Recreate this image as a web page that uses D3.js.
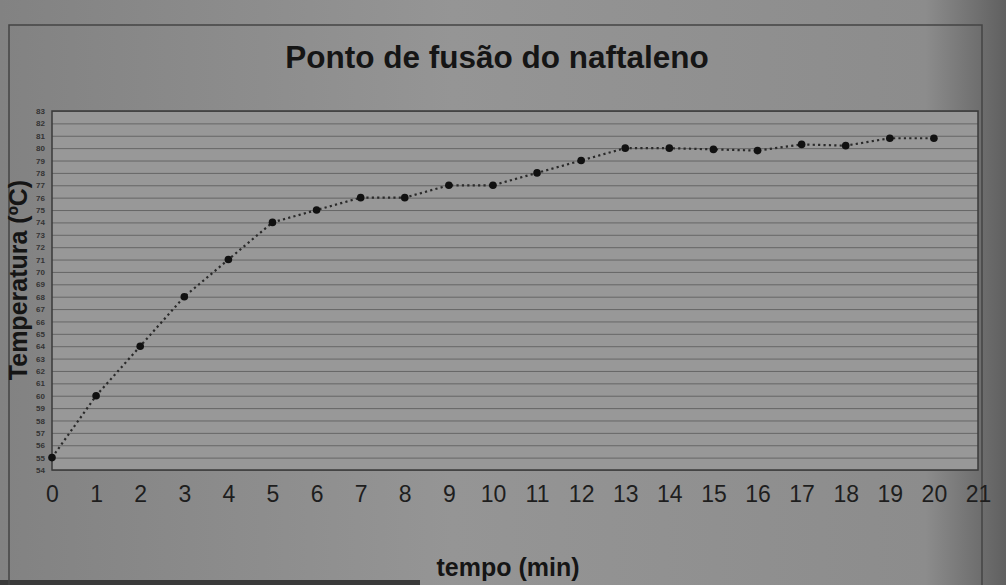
<!DOCTYPE html>
<html>
<head>
<meta charset="utf-8">
<script src="https://cdn.jsdelivr.net/npm/d3@7"></script>
<style>
  html, body { margin: 0; padding: 0; background: #8a8a8a; }
  svg { display: block; }
  text { font-family: "Liberation Sans", Arial, sans-serif; }
</style>
</head>
<body>
<svg id="chart" width="1006" height="585"></svg>
<script>
// ---- data ----
const minutes = [0, 1, 2, 3, 4, 5, 6, 7, 8, 9, 10, 11, 12, 13, 14, 15, 16, 17, 18, 19, 20];
const temperatures = [55, 60, 64, 68, 71, 74, 75, 76, 76, 77, 77, 78, 79, 80, 80, 79.9, 79.8, 80.3, 80.2, 80.8, 80.8];
const xTickLabels = [0, 1, 2, 3, 4, 5, 6, 7, 8, 9, 10, 11, 12, 13, 14, 15, 16, 17, 18, 19, 20, 21];
const yTickLabels = [54, 55, 56, 57, 58, 59, 60, 61, 62, 63, 64, 65, 66, 67, 68, 69, 70, 71, 72, 73, 74, 75, 76, 77, 78, 79, 80, 81, 82, 83];
const chartTitle = "Ponto de fusão do naftaleno";
const xTitle = "tempo (min)";
const yTitle = "Temperatura (ºC)";

// ---- layout ----
const W = 1006, H = 585;
const plot = { left: 52, right: 978, top: 111, bottom: 470 };

const svg = d3.select("#chart");
const defs = svg.append("defs");
const g1 = defs.append("linearGradient").attr("id", "paper").attr("x1", 0).attr("x2", 1).attr("y1", 0).attr("y2", 0);
g1.append("stop").attr("offset", "0%").attr("stop-color", "#828282");
g1.append("stop").attr("offset", "45%").attr("stop-color", "#959595");
g1.append("stop").attr("offset", "92%").attr("stop-color", "#8c8c8c");
g1.append("stop").attr("offset", "100%").attr("stop-color", "#606060");

svg.append("rect").attr("width", W).attr("height", H).attr("fill", "url(#paper)");
// thin dark strip at the bottom-left edge
svg.append("rect").attr("x", 0).attr("y", 580).attr("width", 420).attr("height", 5).attr("fill", "#3a3a3a");

// outer frame
svg.append("rect").attr("x", 9).attr("y", 25).attr("width", 973).attr("height", 600)
  .attr("fill", "none").attr("stroke", "#444").attr("stroke-width", 1.5);

const x = d3.scaleLinear().domain([0, 21]).range([plot.left, plot.right]);
const y = d3.scaleLinear().domain([54, 83]).range([plot.bottom, plot.top]);

// plot background
svg.append("rect")
  .attr("x", plot.left).attr("y", plot.top)
  .attr("width", plot.right - plot.left).attr("height", plot.bottom - plot.top)
  .attr("fill", "#989898");

// horizontal gridlines via axis
svg.append("g")
  .attr("transform", `translate(${plot.left},0)`)
  .call(d3.axisLeft(y).tickValues(yTickLabels).tickSize(-(plot.right - plot.left)).tickFormat(""))
  .call(g => g.select(".domain").remove())
  .call(g => g.selectAll("line").attr("stroke", "#666").attr("stroke-width", 1));

// y tick labels (tiny)
svg.append("g")
  .attr("transform", `translate(${plot.left - 4},0)`)
  .call(d3.axisLeft(y).tickValues(yTickLabels).tickSize(0).tickFormat(d3.format("d")))
  .call(g => g.select(".domain").remove())
  .call(g => g.selectAll("text").attr("fill", "#333").attr("font-size", 8).attr("font-weight", "bold")
      .attr("font-family", "'Liberation Sans', Arial, sans-serif"));

// plot border
svg.append("rect")
  .attr("x", plot.left).attr("y", plot.top)
  .attr("width", plot.right - plot.left).attr("height", plot.bottom - plot.top)
  .attr("fill", "none").attr("stroke", "#3a3a3a").attr("stroke-width", 1.5);

// x tick labels
svg.append("g")
  .attr("transform", `translate(0,${plot.bottom + 8})`)
  .call(d3.axisBottom(x).tickValues(xTickLabels).tickSize(0).tickPadding(8).tickFormat(d3.format("d")))
  .call(g => g.select(".domain").remove())
  .call(g => g.selectAll("text").attr("fill", "#1e1e1e").attr("font-size", 23)
      .attr("font-family", "'Liberation Sans', Arial, sans-serif"));

// line
const pts = minutes.map((m, i) => [m, temperatures[i]]);
svg.append("path")
  .datum(pts)
  .attr("fill", "none")
  .attr("stroke", "#2a2a2a")
  .attr("stroke-width", 2.2)
  .attr("stroke-dasharray", "2.2,3.2")
  .attr("d", d3.line().x(d => x(d[0])).y(d => y(d[1])));

// markers
svg.append("g").selectAll("circle")
  .data(pts)
  .join("circle")
  .attr("cx", d => x(d[0]))
  .attr("cy", d => y(d[1]))
  .attr("r", 3.8)
  .attr("fill", "#111");

// titles
svg.append("text")
  .attr("x", 497).attr("y", 68)
  .attr("text-anchor", "middle")
  .attr("font-size", 31.5).attr("font-weight", "bold").attr("fill", "#151515")
  .text(chartTitle);

svg.append("text")
  .attr("x", 508).attr("y", 576)
  .attr("text-anchor", "middle")
  .attr("font-size", 25).attr("font-weight", "bold").attr("fill", "#151515")
  .text(xTitle);

svg.append("text")
  .attr("transform", "translate(27,280) rotate(-90)")
  .attr("text-anchor", "middle")
  .attr("font-size", 25).attr("font-weight", "bold").attr("fill", "#151515")
  .text(yTitle);
</script>
</body>
</html>
